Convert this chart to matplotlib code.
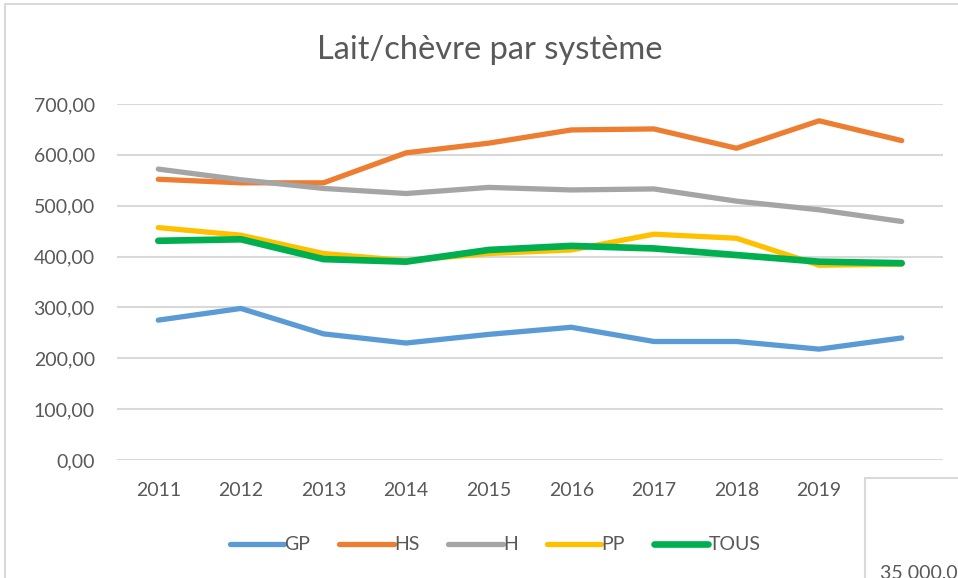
import matplotlib
matplotlib.use('Agg')
import matplotlib.pyplot as plt
from matplotlib.patches import Rectangle
from matplotlib.ticker import FuncFormatter

plt.rcParams['font.family'] = ['Lato', 'DejaVu Sans']

years = ['2011', '2012', '2013', '2014', '2015', '2016', '2017', '2018', '2019', '2020']
gp = [275, 298, 248, 230, 247, 261, 233, 233, 218, 240]
hs = [552, 545, 545, 604, 623, 649, 651, 613, 667, 628]
h = [572, 551, 534, 524, 536, 531, 533, 509, 492, 469]
pp = [457, 442, 406, 392, 406, 413, 444, 436, 383, 385]
tous = [431, 434, 395, 390, 413, 421, 416, 403, 390, 387]

series = [('GP', gp, '#5B9BD5', 3.8),
          ('HS', hs, '#ED7D31', 3.8),
          ('H', h, '#A5A5A5', 3.8),
          ('PP', pp, '#FFC000', 3.8),
          ('TOUS', tous, '#00B050', 4.8)]

W, H = 958, 578
fig = plt.figure(figsize=(W / 100, H / 100), dpi=100)
ax = fig.add_axes([117 / W, 1 - 460 / H, (943 - 117) / W, (460 - 104) / H])

x = list(range(len(years)))
for name, vals, col, lw in series:
    ax.plot(x, vals, color=col, lw=lw, label=name, solid_capstyle='round',
            solid_joinstyle='round', zorder=3)

ax.set_xlim(-0.5, len(years) - 0.5)
ax.set_ylim(0, 700)
ax.set_yticks(range(0, 701, 100))
ax.yaxis.set_major_formatter(FuncFormatter(lambda v, p: f'{v:.2f}'.replace('.', ',')))
ax.set_xticks(x)
ax.set_xticklabels(years)
ax.grid(axis='y', color='#D9D9D9', lw=1.5)
ax.set_axisbelow(True)
for s in ax.spines.values():
    s.set_visible(False)
ax.tick_params(axis='both', length=0, colors='#595959', labelsize=14)
ax.tick_params(axis='y', pad=16)
ax.tick_params(axis='x', pad=16)

fig.text(490 / W, 1 - 50 / H, 'Lait/chèvre par système', ha='center', va='center',
         fontsize=23.5, color='#595959')

leg = fig.legend(loc='center', bbox_to_anchor=(495 / W, 1 - 545 / H), ncol=5,
                 frameon=False, fontsize=14, handlelength=2.8, columnspacing=1.5,
                 handletextpad=0.0, labelcolor='#595959')

# outer chart border
fig.patches.append(Rectangle((5 / W, -0.1), 1.2, 1 - 4 / H + 0.1, transform=fig.transFigure,
                             fill=False, edgecolor='#D9D9D9', lw=1.5))
# overlapping neighbour chart at bottom right
fig.patches.append(Rectangle((865 / W, -0.1), 0.5, 1 - 478 / H + 0.1, transform=fig.transFigure,
                             facecolor='white', edgecolor='#D9D9D9', lw=1.5, zorder=10))
fig.text(880 / W, 1 - 564 / H, '35 000,00', ha='left', va='top', fontsize=14,
         color='#595959', zorder=11)

fig.savefig('out.png', dpi=100)
